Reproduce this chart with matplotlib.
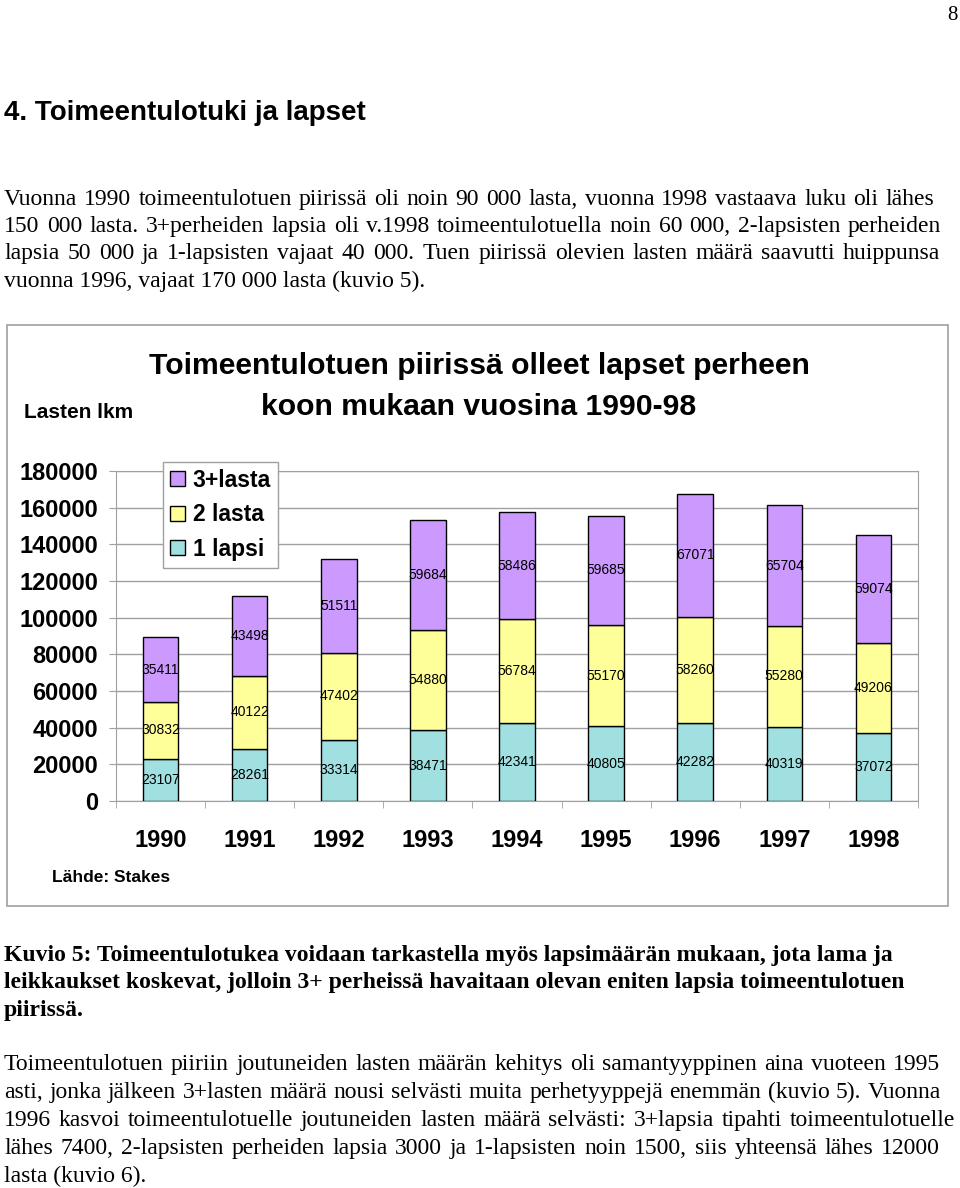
import matplotlib
matplotlib.use('Agg')
import numpy as np
import matplotlib.pyplot as plt
from matplotlib.patches import Rectangle

# data
years = ['1990', '1991', '1992', '1993', '1994', '1995', '1996', '1997', '1998']
yksi_lapsi = [23107, 28261, 33314, 38471, 42341, 40805, 42282, 40319, 37072]
kaksi_lasta = [30832, 40122, 47402, 54880, 56784, 55170, 58260, 55280, 49206]
kolme_plus = [35411, 43498, 51511, 59684, 58486, 59685, 67071, 65704, 59074]
series_names = ['1 lapsi', '2 lasta', '3+lasta']
colours = ['#A0E0E0', '#FFFF99', '#CC99FF']
yticks = [0, 20000, 40000, 60000, 80000, 100000, 120000, 140000, 160000, 180000]

W, H = 960, 1188
fig = plt.figure(figsize=(W / 100, H / 100), dpi=100)
SERIF = 'Liberation Serif'
SANS = 'Liberation Sans'

def fx(x):
    return x / W

def fy(y):
    return 1 - y / H

def justify(line, y, x1, x0=4, **kw):
    # spread words so the line fills x0..x1 (word processor style)
    r = fig.canvas.get_renderer()
    words = line.split()
    widths = []
    for w in words:
        t = fig.text(0, 0, w, **kw)
        widths.append(t.get_window_extent(r).width)
        t.remove()
    gap = (x1 - x0 - sum(widths)) / (len(words) - 1)
    x = x0
    for w, wd in zip(words, widths):
        fig.text(fx(x), fy(y), w, va='baseline', **kw)
        x += wd + gap

#------------------------------------ page text ------------------------------------#
fig.text(fx(958), fy(20), '8', family=SERIF, fontsize=15, ha='right', va='baseline')
fig.text(fx(4), fy(120), '4. Toimeentulotuki ja lapset', family=SANS, fontsize=20,
         fontweight='bold', va='baseline')

body = dict(family=SERIF, fontsize=17)
p1 = ["Vuonna 1990 toimeentulotuen piirissä oli noin 90 000 lasta, vuonna 1998 vastaava luku oli lähes",
      "150 000 lasta. 3+perheiden lapsia oli v.1998 toimeentulotuella noin 60 000, 2-lapsisten perheiden",
      "lapsia 50 000 ja 1-lapsisten vajaat 40 000. Tuen piirissä olevien lasten määrä saavutti huippunsa"]
for line, y, x1 in zip(p1, [205, 232, 259], [934, 941, 940]):
    justify(line, y, x1, **body)
fig.text(fx(4), fy(287), "vuonna 1996, vajaat 170 000 lasta (kuvio 5).", va='baseline', **body)

caption = ["Kuvio 5: Toimeentulotukea voidaan tarkastella myös lapsimäärän mukaan, jota lama ja",
           "leikkaukset koskevat, jolloin 3+ perheissä havaitaan olevan eniten lapsia toimeentulotuen",
           "piirissä."]
for line, y in zip(caption, [961, 988, 1016]):
    fig.text(fx(4), fy(y), line, va='baseline', fontweight='bold', **body)

p2 = ["Toimeentulotuen piiriin joutuneiden lasten määrän kehitys oli samantyyppinen aina vuoteen 1995",
      "asti, jonka jälkeen 3+lasten määrä nousi selvästi muita perhetyyppejä enemmän (kuvio 5). Vuonna",
      "1996 kasvoi toimeentulotuelle joutuneiden lasten määrä selvästi: 3+lapsia tipahti toimeentulotuelle",
      "lähes 7400, 2-lapsisten perheiden lapsia 3000  ja 1-lapsisten noin 1500, siis yhteensä lähes 12000"]
for line, y, x1 in zip(p2, [1070, 1098, 1126, 1154], [940, 941, 955, 940]):
    justify(line, y, x1, **body)
fig.text(fx(4), fy(1182), "lasta (kuvio 6).", va='baseline', **body)

#------------------------------------ chart ------------------------------------#
fig.patches.append(Rectangle((fx(7), fy(906)), fx(948) - fx(7), fy(325) - fy(906),
                             transform=fig.transFigure, fill=False, edgecolor='#A0A0A0', lw=1.2))

ax = fig.add_axes([fx(116), fy(801), fx(918) - fx(116), fy(471) - fy(801)])
x = np.arange(len(years))
bottom = np.zeros(len(years))
handles = []
for vals, name, col in zip([yksi_lapsi, kaksi_lasta, kolme_plus], series_names, colours):
    vals = np.array(vals)
    b = ax.bar(x, vals, width=0.4, bottom=bottom, color=col, edgecolor='black', lw=1, label=name, zorder=3)
    handles.append(b)
    for xi, v, b0 in zip(x, vals, bottom):
        ax.text(xi, b0 + v / 2, str(v), ha='center', va='center', family=SANS, fontsize=10, zorder=4)
    bottom = bottom + vals

ax.set_xlim(-0.5, len(years) - 0.5)
ax.set_ylim(0, 180000)
ax.set_yticks(yticks)
ax.set_yticklabels([str(v) for v in yticks], family=SANS, fontsize=17, fontweight='bold')
ax.set_xticks(x)
ax.set_xticklabels(years, family=SANS, fontsize=17, fontweight='bold')
ax.set_xticks(np.arange(len(years) + 1) - 0.5, minor=True)
ax.tick_params(axis='x', which='major', length=0, pad=20.5)
ax.tick_params(axis='x', which='minor', length=5, color='#A0A0A0', direction='out')
ax.tick_params(axis='y', length=5, color='#A0A0A0', direction='out', pad=8)
ax.yaxis.grid(True, color='#A0A0A0', lw=1, zorder=0)
for s in ax.spines.values():
    s.set_color('#A0A0A0')

leg = ax.legend(handles[::-1], series_names[::-1], loc='upper left',
                bbox_to_anchor=(fx(163), fy(462)), bbox_transform=fig.transFigure,
                borderaxespad=0, prop={'family': SANS, 'size': 16.5, 'weight': 'bold'},
                handlelength=0.65, handleheight=0.65, handletextpad=0.35, labelspacing=0.5,
                borderpad=0.3, fancybox=False, framealpha=1)
leg.get_frame().set_edgecolor('#A0A0A0')
leg.get_frame().set_linewidth(1)

fig.text(fx(479), fy(366), 'Toimeentulotuen piirissä olleet lapset perheen', ha='center', va='center',
         family=SANS, fontsize=21.7, fontweight='bold')
fig.text(fx(479), fy(407), 'koon mukaan vuosina 1990-98', ha='center', va='center',
         family=SANS, fontsize=21.7, fontweight='bold')
fig.text(fx(24), fy(413), 'Lasten lkm', va='center', family=SANS, fontsize=15, fontweight='bold')
fig.text(fx(52), fy(877), 'Lähde: Stakes', va='center', family=SANS, fontsize=12.5, fontweight='bold')

plt.savefig('out.png', dpi=100)
